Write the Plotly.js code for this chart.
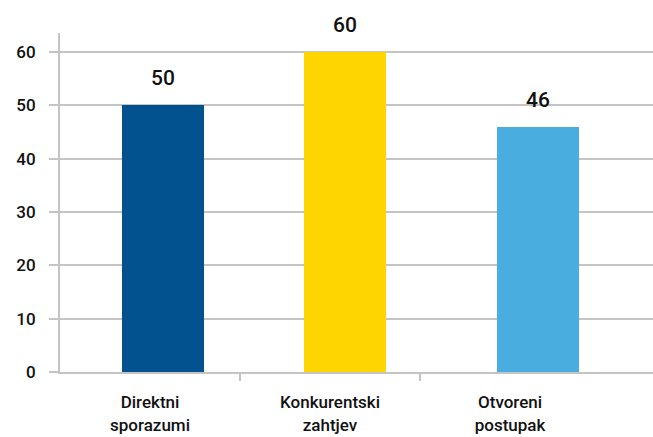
<!DOCTYPE html>
<html><head><meta charset="utf-8">
<script src="https://cdn.plot.ly/plotly-3.0.1.min.js"></script>
<style>html,body{margin:0;padding:0;background:#fff}#c{width:653px;height:437px}</style>
</head><body><div id="c"></div>
<script>
const categories = ["Direktni<br>sporazumi", "Konkurentski<br>zahtjev", "Otvoreni<br>postupak"];
const values = [50, 60, 46];
const labels = ["50", "60", "46"];
const colors = ["#02528F", "#FFD500", "#4AADE0"];
const yTicks = [0, 10, 20, 30, 40, 50, 60];
const boundaryTicks = [0.5, 1.5];

const barWidth = 0.456;
const offsets = [-0.156, -0.144, -0.072];
const pxPerUnit = 180;

const trace = {
  type: "bar",
  x: categories,
  y: values,
  marker: {color: colors, line: {width: 0}},
  width: barWidth,
  offset: offsets,
  hoverinfo: "skip"
};

const annotations = values.map((v, i) => ({
  x: categories[i], y: v, xref: "x", yref: "y",
  text: labels[i], showarrow: false,
  xshift: (offsets[i] + barWidth / 2) * pxPerUnit,
  yshift: 27, yanchor: "middle",
  font: {family: "Roboto", size: 21, color: "#111", weight: 500}
}));

const shapes = boundaryTicks.map(b => ({
  type: "line", xref: "x", yref: "paper",
  x0: b, x1: b, y0: 0, y1: -9 / 339,
  line: {color: "#c4c4c4", width: 2}
}));

const layout = {
  width: 653, height: 437,
  margin: {l: 60, r: 0, t: 33, b: 65},
  paper_bgcolor: "#fff", plot_bgcolor: "#fff",
  showlegend: false,
  bargap: 0,
  xaxis: {
    type: "category",
    range: [-0.5, 2.794],
    ticks: "",
    showline: true, linecolor: "#c4c4c4", linewidth: 2,
    showgrid: false, zeroline: false,
    ticklabelstandoff: 14,
    tickfont: {family: "Roboto", size: 17, color: "#111", weight: 500}
  },
  yaxis: {
    range: [0, 63.6],
    tickvals: yTicks,
    ticks: "outside", ticklen: 9, tickwidth: 2, tickcolor: "#c4c4c4",
    showline: true, linecolor: "#c4c4c4", linewidth: 2,
    showgrid: true, gridcolor: "#c4c4c4", gridwidth: 2,
    zeroline: false,
    ticklabelstandoff: 10,
    tickfont: {family: "Roboto", size: 17, color: "#111", weight: 500}
  },
  shapes: shapes,
  annotations: annotations
};

Plotly.newPlot("c", [trace], layout, {displayModeBar: false, staticPlot: true});
</script>
</body></html>
